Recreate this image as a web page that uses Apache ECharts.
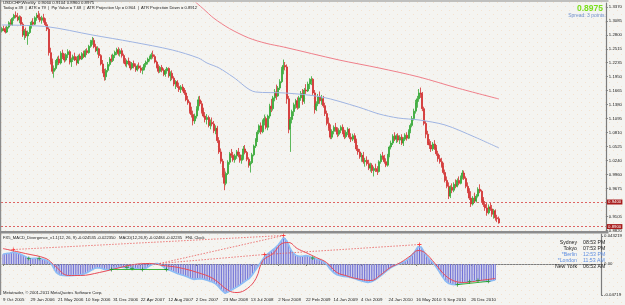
<!DOCTYPE html>
<html><head><meta charset="utf-8">
<script src="https://cdn.jsdelivr.net/npm/echarts@6/dist/echarts.min.js"></script>
<style>html,body{margin:0;padding:0;background:#f4f4f1}#c{width:625px;height:305px}</style>
</head><body><div id="c"></div>
<script>
// ---------- data ----------
const dateLabels = ["9 Oct 2005","29 Jan 2006","21 May 2006","10 Sep 2006","31 Dec 2006","22 Apr 2007","12 Aug 2007","2 Dec 2007","23 Mar 2008","13 Jul 2008","2 Nov 2008","22 Feb 2009","14 Jun 2009","4 Oct 2009","24 Jan 2010","16 May 2010","5 Sep 2010","26 Dec 2010"];
const priceTicks = [1.3370,1.3085,1.2800,1.2515,1.2235,1.1950,1.1665,1.1380,1.1095,1.0810,1.0525,1.0240,0.9960,0.9675,0.9105,0.8820];
const macdTicks = [0.043219,0,-0.04719];
const macdTickLabels = ["0.043219","0.00","-0.04719"];
// weekly candles [open, high, low, close] in 1/10000
const ohlc = [
[12880,12960,12850,12930],[12930,12990,12880,12900],[12900,12970,12830,12860],[12860,12990,12840,12960],[12960,13080,12930,13050],
[13050,13120,12990,13010],[13010,13160,12990,13140],[13140,13230,13090,13200],[13200,13280,13140,13170],[13170,13250,13080,13110],
[13110,13200,13040,13160],[13160,13190,12990,13020],[13020,13060,12760,12800],[12800,12920,12700,12880],[12880,12950,12740,12780],
[12780,12890,12600,12850],[12850,13000,12820,12970],[12970,13090,12930,13060],[13060,13140,12990,13020],[13020,13180,13000,13150],
[13150,13250,13090,13200],[13200,13290,13110,13160],[13160,13240,13060,13100],[13100,13190,13030,13150],[13150,13230,13050,13080],
[13080,13140,12960,13010],[13010,13060,12880,12920],[12920,12960,12380,12440],[12440,12540,12200,12260],[12260,12320,12010,12060],
[12060,12180,11930,12120],[12120,12290,12080,12250],[12250,12360,12180,12310],[12310,12380,12190,12230],[12230,12470,12200,12430],
[12430,12500,12310,12350],[12350,12420,12240,12290],[12290,12430,12260,12400],[12400,12510,12330,12460],[12460,12490,12200,12250],
[12250,12340,12150,12300],[12300,12400,12250,12360],[12360,12440,12270,12290],[12290,12360,12180,12230],[12230,12400,12210,12370],
[12370,12420,12280,12310],[12310,12450,12290,12420],[12420,12480,12330,12360],[12360,12510,12340,12480],[12480,12530,12390,12440],
[12440,12600,12420,12570],[12570,12700,12540,12660],[12660,12760,12600,12690],[12690,12740,12530,12560],[12560,12620,12450,12480],
[12480,12570,12400,12520],[12520,12540,12330,12380],[12380,12410,12180,12210],[12210,12290,12020,12050],[12050,12110,11870,11950],
[11950,12120,11880,12080],[12080,12250,12040,12200],[12200,12350,12160,12310],[12310,12400,12240,12280],[12280,12420,12250,12390],
[12390,12480,12330,12450],[12450,12540,12390,12500],[12500,12550,12380,12420],[12420,12520,12360,12480],[12480,12530,12340,12380],
[12380,12420,12220,12260],[12260,12330,12160,12210],[12210,12300,12140,12270],[12270,12340,12180,12200],[12200,12260,12080,12130],
[12130,12250,12100,12220],[12220,12280,12120,12160],[12160,12220,12050,12090],[12090,12200,12060,12170],[12170,12240,12100,12130],
[12130,12180,12030,12080],[12080,12150,12000,12110],[12110,12230,12080,12200],[12200,12280,12140,12250],[12250,12340,12200,12310],
[12310,12380,12260,12350],[12350,12440,12300,12400],[12400,12480,12320,12360],[12360,12400,12220,12250],[12250,12280,12120,12150],
[12150,12200,12020,12060],[12060,12170,12030,12140],[12140,12190,12040,12080],[12080,12120,11960,12000],[12000,12110,11950,12070],
[12070,12150,12010,12120],[12120,12140,11930,11970],[11970,12060,11860,12020],[12020,12080,11880,11920],[11920,11960,11760,11800],
[11800,11880,11700,11850],[11850,11880,11720,11750],[11750,11830,11640,11690],[11690,11780,11620,11740],[11740,11800,11650,11680],
[11680,11720,11580,11620],[11620,11680,11450,11480],[11480,11560,11380,11420],[11420,11450,11200,11250],[11250,11340,11120,11180],
[11180,11260,10960,11050],[11050,11200,10990,11150],[11150,11350,11100,11300],[11300,11550,11260,11480],[11480,11560,11350,11400],
[11400,11460,11200,11250],[11250,11320,11120,11150],[11150,11230,11020,11080],[11080,11190,10980,11120],[11120,11160,10920,10960],
[10960,11080,10880,11020],[11020,11120,10940,10990],[10990,11050,10800,10850],[10850,10960,10780,10900],[10900,10950,10600,10650],
[10650,10720,10380,10420],[10420,10490,10180,10230],[10230,10280,9900,9960],[9960,10090,9640,9780],[9780,10020,9740,9980],
[9980,10250,9950,10210],[10210,10420,10160,10380],[10380,10480,10300,10350],[10350,10420,10220,10260],[10260,10380,10200,10340],
[10340,10460,10280,10420],[10420,10500,10310,10360],[10360,10420,10200,10250],[10250,10360,10180,10300],[10300,10540,10260,10480],
[10480,10560,10370,10410],[10410,10440,10230,10270],[10270,10310,10100,10150],[10150,10230,10000,10200],[10200,10400,10170,10360],
[10360,10570,10330,10540],[10540,10700,10500,10660],[10660,10860,10620,10820],[10820,10980,10780,10950],[10950,11020,10780,10830],
[10830,11080,10800,11040],[11040,11180,10960,11100],[11100,11140,10880,10920],[10920,11180,10860,11150],[11150,11400,11100,11350],
[11350,11500,11230,11300],[11300,11560,11260,11520],[11520,11700,11450,11640],[11640,11790,11480,11560],[11560,11760,11540,11720],
[11720,11900,11680,11850],[11850,12150,11820,12100],[12100,12300,12000,12180],[12180,12250,12080,12150],[12150,12200,11400,11500],
[11500,11560,10800,10880],[10880,11130,10420,11080],[11080,11280,11000,11240],[11240,11420,11150,11380],[11380,11500,11300,11460],
[11460,11530,11280,11320],[11320,11560,11300,11520],[11520,11660,11460,11610],[11610,11700,11380,11450],[11450,11720,11400,11680],
[11680,11800,11600,11660],[11660,11850,11640,11800],[11800,11920,11700,11860],[11860,11960,11780,11900],[11900,11920,11580,11620],
[11620,11680,11200,11280],[11280,11450,11250,11400],[11400,11600,11350,11540],[11540,11650,11400,11460],[11460,11580,11380,11500],
[11500,11560,11320,11360],[11360,11420,11150,11200],[11200,11260,10960,11000],[11000,11120,10850,10900],[10900,10980,10680,10720],
[10720,10880,10680,10840],[10840,10960,10780,10920],[10920,11010,10830,10870],[10870,10920,10720,10780],[10780,10900,10740,10860],
[10860,10960,10800,10920],[10920,10980,10780,10810],[10810,10870,10680,10730],[10730,10860,10700,10820],[10820,10920,10760,10880],
[10880,10900,10680,10720],[10720,10800,10620,10680],[10680,10790,10640,10750],[10750,10800,10600,10640],[10640,10690,10440,10480],
[10480,10560,10360,10420],[10420,10480,10280,10320],[10320,10400,10220,10350],[10350,10420,10180,10220],[10220,10300,10120,10250],
[10250,10330,10140,10180],[10180,10260,10050,10090],[10090,10200,10020,10150],[10150,10190,9990,10040],[10040,10120,9920,10080],
[10080,10180,10010,10060],[10060,10130,9950,10020],[10020,10250,10000,10220],[10220,10380,10180,10340],[10340,10420,10260,10300],
[10300,10360,10180,10220],[10220,10290,10110,10150],[10150,10380,10120,10350],[10350,10550,10310,10520],[10520,10650,10470,10600],
[10600,10780,10560,10740],[10740,10820,10640,10680],[10680,10780,10600,10750],[10750,10800,10620,10660],[10660,10760,10580,10720],
[10720,10780,10560,10600],[10600,10720,10540,10680],[10680,10800,10640,10760],[10760,10820,10650,10700],[10700,10880,10680,10840],
[10840,11000,10800,10960],[10960,11150,10920,11100],[11100,11300,11060,11250],[11250,11480,11200,11420],[11420,11560,11320,11500],
[11500,11700,11440,11620],[11620,11730,11520,11600],[11600,11640,11250,11300],[11300,11340,10960,11000],[11000,11050,10700,10780],
[10780,10850,10560,10600],[10600,10680,10480,10560],[10560,10640,10420,10480],[10480,10620,10440,10580],[10580,10660,10460,10500],
[10500,10560,10340,10380],[10380,10440,10220,10280],[10280,10360,10180,10220],[10220,10300,10100,10140],[10140,10200,9960,10000],
[10000,10060,9800,9840],[9840,9920,9680,9720],[9720,9800,9460,9520],[9520,9740,9480,9700],[9700,9780,9580,9640],
[9640,9800,9600,9760],[9760,9860,9680,9720],[9720,9880,9700,9840],[9840,9920,9740,9780],[9780,9940,9760,9900],
[9900,10050,9860,9990],[9990,10040,9850,9880],[9880,9920,9680,9720],[9720,9800,9580,9620],[9620,9680,9440,9480],
[9480,9620,9300,9360],[9360,9520,9330,9480],[9480,9590,9380,9420],[9420,9560,9390,9520],[9520,9700,9490,9660],
[9660,9760,9580,9620],[9620,9650,9400,9440],[9440,9500,9300,9350],[9350,9420,9220,9280],[9280,9380,9120,9180],
[9180,9350,9150,9300],[9300,9380,9220,9260],[9260,9340,9100,9150],[9150,9260,9060,9220],[9220,9250,9020,9080],
[9080,9140,8990,9060],[9060,9104,8960,8975]
];
// moving averages: [bar index, price]
const maBlue = [[0,1.3004],[26,1.2969],[52,1.2800],[75,1.2658],[98,1.2495],[113,1.2332],[118,1.2230],[125,1.2128],[133,1.1945],[146,1.1640],[163,1.1619],[184,1.1538],[205,1.1334],[217,1.1192],[228,1.1110],[240,1.1070],[255,1.0968],[272,1.0724],[286,1.0500]];
const maRed = [[110,1.3513],[116,1.3329],[122,1.3140],[131,1.2930],[142,1.2740],[152,1.2630],[162,1.2556],[194,1.2291],[217,1.2128],[240,1.1945],[262,1.1721],[286,1.1497]];
// horizontal levels
const levelUp = 0.9360, levelDown = 0.8912, lastPrice = 0.8975;
// MACD histogram per bar
const macd = [
0.0150,0.0158,0.0162,0.0165,0.0170,0.0176,0.0182,0.0178,0.0170,0.0160,
0.0152,0.0140,0.0128,0.0115,0.0100,0.0090,0.0085,0.0086,0.0088,0.0090,
0.0089,0.0086,0.0082,0.0076,0.0068,0.0058,0.0046,0.0030,0.0005,-0.0040,
-0.0090,-0.0130,-0.0155,-0.0168,-0.0172,-0.0175,-0.0178,-0.0180,-0.0180,-0.0178,
-0.0176,-0.0174,-0.0172,-0.0172,-0.0170,-0.0166,-0.0160,-0.0152,-0.0142,-0.0130,
-0.0116,-0.0100,-0.0084,-0.0070,-0.0062,-0.0058,-0.0060,-0.0066,-0.0074,-0.0082,
-0.0086,-0.0088,-0.0087,-0.0084,-0.0076,-0.0066,-0.0056,-0.0050,-0.0048,-0.0050,
-0.0054,-0.0056,-0.0055,-0.0058,-0.0064,-0.0068,-0.0066,-0.0068,-0.0074,-0.0080,
-0.0084,-0.0085,-0.0080,-0.0068,-0.0050,-0.0032,-0.0016,-0.0004,0.0004,0.0008,
0.0006,0.0002,-0.0015,-0.0040,-0.0065,-0.0084,-0.0088,-0.0095,-0.0105,-0.0118,
-0.0130,-0.0142,-0.0152,-0.0160,-0.0168,-0.0175,-0.0185,-0.0196,-0.0208,-0.0220,
-0.0232,-0.0238,-0.0236,-0.0228,-0.0222,-0.0224,-0.0230,-0.0238,-0.0246,-0.0254,
-0.0262,-0.0270,-0.0280,-0.0295,-0.0315,-0.0340,-0.0370,-0.0400,-0.0430,-0.0448,
-0.0440,-0.0425,-0.0410,-0.0395,-0.0380,-0.0365,-0.0350,-0.0335,-0.0318,-0.0298,
-0.0278,-0.0258,-0.0240,-0.0225,-0.0195,-0.0160,-0.0120,-0.0080,-0.0042,-0.0005,
0.0035,0.0075,0.0112,0.0140,0.0160,0.0180,0.0200,0.0222,0.0245,0.0268,
0.0295,0.0330,0.0370,0.0405,0.0395,0.0350,0.0290,0.0230,0.0185,0.0155,
0.0135,0.0125,0.0120,0.0118,0.0120,0.0125,0.0128,0.0126,0.0118,0.0105,
0.0092,0.0084,0.0078,0.0072,0.0064,0.0054,0.0040,0.0020,-0.0005,-0.0040,
-0.0075,-0.0105,-0.0130,-0.0150,-0.0165,-0.0175,-0.0180,-0.0185,-0.0190,-0.0192,
-0.0195,-0.0200,-0.0206,-0.0212,-0.0220,-0.0230,-0.0240,-0.0250,-0.0258,-0.0265,
-0.0272,-0.0278,-0.0282,-0.0280,-0.0272,-0.0260,-0.0245,-0.0228,-0.0210,-0.0190,
-0.0170,-0.0148,-0.0126,-0.0104,-0.0082,-0.0062,-0.0045,-0.0030,-0.0018,-0.0008,
0.0002,0.0012,0.0022,0.0034,0.0048,0.0066,0.0088,0.0115,0.0145,0.0180,
0.0220,0.0262,0.0285,0.0260,0.0215,0.0170,0.0130,0.0095,0.0065,0.0038,
0.0012,-0.0020,-0.0058,-0.0098,-0.0140,-0.0180,-0.0220,-0.0258,-0.0285,-0.0300,
-0.0308,-0.0312,-0.0314,-0.0316,-0.0316,-0.0310,-0.0300,-0.0292,-0.0285,-0.0280,
-0.0275,-0.0270,-0.0266,-0.0262,-0.0256,-0.0252,-0.0252,-0.0254,-0.0258,-0.0262,
-0.0264,-0.0266,-0.0266,-0.0262,-0.0256,-0.0250,-0.0245
];
// signal line: [bar index, value]
const signal = [[0,0.0237],[8,0.0191],[13,0.0161],[25,0.0084],[30,-0.0023],[38,-0.0176],[45,-0.0176],[56,-0.0130],[68,-0.0054],[76,-0.0008],[85,0.0008],[93,-0.0023],[102,-0.0054],[113,-0.0130],[122,-0.0222],[131,-0.0406],[136,-0.0437],[142,-0.0375],[147,-0.0222],[151,0.0054],[157,0.0161],[162,0.0314],[166,0.0329],[171,0.0237],[176,0.0176],[182,0.0100],[188,0.0023],[194,-0.0130],[199,-0.0176],[205,-0.0222],[214,-0.0253],[219,-0.0176],[225,-0.0054],[231,0.0023],[237,0.0130],[241,0.0207],[245,0.0176],[251,0.0008],[257,-0.0176],[263,-0.0268],[268,-0.0283],[277,-0.0253],[286,-0.0222]];
// divergence lines and arrows
const bearLines = [[[6,0.0222],[163,0.0437]],[[91,0.0008],[152,0.0146]],[[91,0.0008],[163,0.0437]],[[152,0.0146],[242,0.0299]]];
const bullLines = [[[63,-0.0084],[95,-0.0084]],[[264,-0.0316],[282,-0.0266]]];
const bearArrows = [[6,0.0222],[163,0.0437],[152,0.0146],[242,0.0299]];
const bullArrows = [[15,0.0084],[21,0.0084],[63,-0.0084],[72,-0.0055],[75,-0.0068],[81,-0.0085],[95,-0.0084],[180,0.0092],[264,-0.0316],[271,-0.0270],[276,-0.0252],[282,-0.0266]];
const clockCities = ["Sydney","Tokyo","*Berlin","*London","New York"];
const clockTimes = ["08:53 PM","07:53 PM","12:53 PM","11:53 AM","06:53 AM"];

// ---------- background pattern ----------
const tile = document.createElement('canvas'); tile.width = 8; tile.height = 8;
const tcx = tile.getContext('2d');
tcx.fillStyle = '#f4f4f1'; tcx.fillRect(0,0,8,8);
tcx.fillStyle = '#f4e2cf'; tcx.fillRect(1,2,1,1); tcx.fillRect(5,6,1,1);
document.getElementById('c').style.background = 'url(' + tile.toDataURL() + ')';

// ---------- chart ----------
const FONT = '"Liberation Sans", Arial, sans-serif';
const M = 348;
const cats = Array.from({length: M}, (_, k) => String(k));
const candleData = ohlc.map(r => [r[0]/1e4, r[3]/1e4, r[2]/1e4, r[1]/1e4]);
const labelInterval = (idx) => idx % 16 === 0 && idx / 16 < dateLabels.length;
const crossPath = 'path://M2,0H3V2H5V3H3V5H2V3H0V2H2Z';

function txt(x, y, s, size, color, align, bold) {
  return {type:'text', x:x, y:y, silent:true, z:100,
    style:{text:s, font:(bold?'bold ':'') + size + 'px ' + FONT, fill:color, align:align||'left', verticalAlign:'middle'}};
}

const graphics = [
  {type:'rect', shape:{x:0, y:231, width:608.5, height:2.5}, style:{fill:'#8c8c8c'}, silent:true, z:50},
  {type:'rect', shape:{x:0, y:0, width:1.2, height:295}, style:{fill:'#8c8c8c'}, silent:true, z:50},
  {type:'rect', shape:{x:0, y:0.5, width:608.5, height:1}, style:{fill:'#8c8c8c'}, silent:true, z:50},
  txt(3, 2.8, 'USDCHF,Weekly  0.9060 0.9104 0.8960 0.8975', 4.3, '#1a1a1a'),
  txt(3, 7.9, 'Today = 39  |  ATR = 79  |  Pip Value = 7.68  |  ATR Projection Up = 0.904  |  ATR Projection Down = 0.8912', 4.1, '#1a1a1a'),
  txt(603, 8.6, '0.8975', 8.5, '#7ade1c', 'right', true),
  txt(606, 15.6, 'Spread: 3 points.', 5, '#7090cc', 'right'),
  txt(3, 237.6, 'FX5_MACD_Divergence_v1.1(12, 26, 9) -0.024535 -0.022350   MACD(12,26,9) -0.02484 -0.02235   FNL Clock', 4.1, '#1a1a1a'),
  txt(3, 293, 'Metatrader, \u00a9 2001-2011 MetaQuotes Software Corp.', 4.2, '#1a1a1a')
];
const clockY = [243, 248.8, 254.6, 260.4, 266.2];
clockCities.forEach((c, k) => {
  const col = c.charAt(0) === '*' ? '#5f8ee0' : '#222';
  graphics.push(txt(577, clockY[k], c, 5.2, col, 'right'));
  graphics.push(txt(583, clockY[k], clockTimes[k], 5.2, col, 'left'));
});

const chart = echarts.init(document.getElementById('c'), null, {renderer:'canvas'});
const lvlLabel = (bg) => ({show:true, position:'end', distance:1, formatter:(p)=>p.value.toFixed(4), color:'#fff', backgroundColor:bg, fontSize:4.3, fontFamily:FONT, padding:[0.6,1.2,0.4,1.2]});
const series = [
  {type:'candlestick', xAxisIndex:0, yAxisIndex:0, data:candleData, barWidth:1.5,
   itemStyle:{color:'#22a022', color0:'#cc1f1f', borderColor:'#36a836', borderColor0:'#d23030', borderWidth:0.8},
   markLine:{silent:true, symbol:'none', animation:false,
     data:[
       {yAxis:levelUp, lineStyle:{color:'#d84040', type:[2,2], width:0.8}, label:lvlLabel('#a81c1c')},
       {yAxis:levelDown, lineStyle:{color:'#d84040', type:[2,2], width:0.8}, label:lvlLabel('#a81c1c')},
       {yAxis:lastPrice, lineStyle:{opacity:0}, label:lvlLabel('#1a1a1a')}
     ]}},
  {type:'line', xAxisIndex:0, yAxisIndex:0, data:maBlue, showSymbol:false, smooth:0.3, lineStyle:{color:'#9fb4e2', width:1}, z:3},
  {type:'line', xAxisIndex:0, yAxisIndex:0, data:maRed, showSymbol:false, smooth:0.3, lineStyle:{color:'#ef7f8a', width:1}, z:3},
  {type:'bar', xAxisIndex:1, yAxisIndex:1, data:macd, barWidth:1, itemStyle:{color:'#6e6fd6'},
   markLine:{silent:true, symbol:'none', animation:false, label:{show:false}, data:[{yAxis:0}], lineStyle:{color:'#b8b8b8', type:[1,2], width:0.8}}},
  {type:'line', xAxisIndex:1, yAxisIndex:1, data:macd, showSymbol:false, lineStyle:{color:'#8cbdf6', width:1.6}, z:3},
  {type:'line', xAxisIndex:1, yAxisIndex:1, data:signal, showSymbol:false, smooth:0.4, lineStyle:{color:'#e84a56', width:1}, z:4}
];
bearLines.forEach(seg => series.push({type:'line', xAxisIndex:1, yAxisIndex:1, data:seg, showSymbol:false, lineStyle:{color:'#e85a5a', width:0.8, type:[1.5,1.5]}, z:5}));
bullLines.forEach(seg => series.push({type:'line', xAxisIndex:1, yAxisIndex:1, data:seg, showSymbol:false, lineStyle:{color:'#3db43d', width:1}, z:5}));
series.push({type:'scatter', xAxisIndex:1, yAxisIndex:1, data:bearArrows, symbol:crossPath, symbolSize:4, itemStyle:{color:'#ff2020'}, z:6});
series.push({type:'scatter', xAxisIndex:1, yAxisIndex:1, data:bullArrows, symbol:crossPath, symbolSize:4, itemStyle:{color:'#178f17'}, z:6});

chart.setOption({
  backgroundColor:'transparent',
  animation:false,
  grid:[
    {left:1, right:17, top:3, height:228},
    {left:1, right:17, top:234, height:61}
  ],
  xAxis:[
    {type:'category', gridIndex:0, data:cats, axisLine:{show:false}, axisTick:{show:false}, axisLabel:{show:false}, splitLine:{show:false}},
    {type:'category', gridIndex:1, data:cats, axisLine:{show:true, lineStyle:{color:'#7c7c7c', width:1}},
     axisTick:{show:true, interval:labelInterval, alignWithLabel:true, length:2, lineStyle:{color:'#7c7c7c'}},
     axisLabel:{show:true, interval:labelInterval, formatter:(v)=>dateLabels[Number(v)/16], align:'left', fontSize:4.4, fontFamily:FONT, color:'#1a1a1a', margin:3},
     splitLine:{show:false}}
  ],
  yAxis:[
    {type:'value', gridIndex:0, position:'right', min:0.8810, max:1.3451, splitLine:{show:false},
     axisLine:{show:true, lineStyle:{color:'#7c7c7c', width:1.2}},
     axisTick:{show:true, customValues:priceTicks, length:2, lineStyle:{color:'#7c7c7c'}},
     axisLabel:{show:true, customValues:priceTicks, formatter:(v)=>v.toFixed(4), fontSize:4.3, fontFamily:FONT, color:'#1a1a1a', margin:3}},
    {type:'value', gridIndex:1, position:'right', min:-0.0475, max:0.046, splitLine:{show:false},
     axisLine:{show:true, lineStyle:{color:'#7c7c7c', width:1.2}},
     axisTick:{show:true, customValues:macdTicks, length:2, lineStyle:{color:'#7c7c7c'}},
     axisLabel:{show:true, customValues:macdTicks, formatter:(v)=>{const k = macdTicks.indexOf(v); return k >= 0 ? macdTickLabels[k] : '';}, fontSize:4.3, fontFamily:FONT, color:'#1a1a1a', margin:3}}
  ],
  graphic:graphics,
  series:series
});
</script>
</body></html>
